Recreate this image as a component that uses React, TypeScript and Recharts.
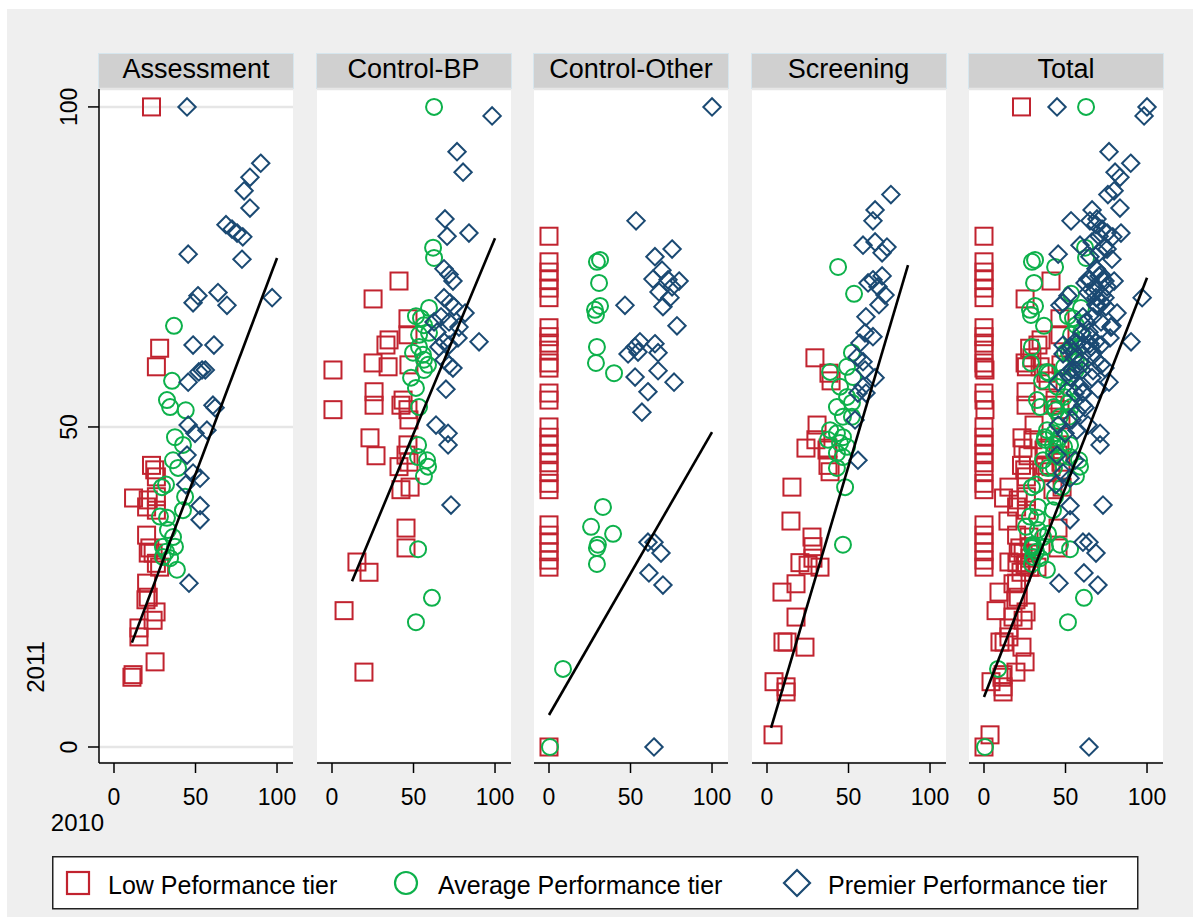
import { ScatterChart, Scatter, XAxis, YAxis, CartesianGrid } from 'recharts';

type Pt = [number, number];

const FONT = '"Liberation Sans", Arial, Helvetica, sans-serif';
const RED = '#c1232f';
const GREEN = '#0db14b';
const NAVY = '#1b4a73';

// panel titles and axis ticks
const panelTitles = ['Assessment', 'Control-BP', 'Control-Other', 'Screening', 'Total'];
const xTicks = [0, 50, 100];
const yTicks = [0, 50, 100];
const legendLabels = ['Low Peformance tier', 'Average Performance tier', 'Premier Performance tier'];

// Assessment
const assessmentLow: Pt[] = [
  [23, 100], [28, 62.3], [26, 59.4], [23, 44], [25, 43.3], [26, 42.2], [12, 38.9], [21, 38.6], [26, 39.1],
  [20, 37.5], [26, 37], [20, 33.1], [22, 31.1], [24, 30.3], [21, 30.3], [26, 28.7], [28, 28.1], [20, 25.6],
  [21, 23.4], [19.6, 23], [25.8, 21.1], [24, 19.8], [15.3, 18.6], [15.3, 17.2], [25.2, 13.3], [11.7, 11.3], [11, 10.9],
];
const assessmentAvg: Pt[] = [
  [36.8, 65.8], [35.6, 57.2], [32.5, 54.2], [34.4, 53.1], [44, 52.6], [37.4, 48.4], [42.3, 47.2], [36.2, 44.8],
  [39.3, 43.6], [31.9, 41], [29.4, 40.6], [43.6, 39.1], [28.2, 36], [32.5, 35.8], [42.3, 37], [33.1, 33.9],
  [36.2, 32.8], [30, 31.3], [37.4, 31.3], [30, 29.7], [34.4, 29.5], [32, 30.5], [38.6, 27.7],
];
const assessmentPremier: Pt[] = [
  [44.8, 100], [90, 91.2], [83.4, 89], [79.8, 86.9], [83.4, 84.2], [68.7, 81.6], [72.4, 80.9], [75.5, 80.3],
  [79, 79.7], [45.5, 77], [78.5, 76.2], [51.5, 70.5], [48.5, 69.4], [63.8, 71], [69.3, 69], [97, 70.2],
  [48.5, 62.8], [61.3, 62.8], [54, 58.9], [56, 58.9], [52, 58.6], [45.5, 57], [60.7, 53.4], [62, 53],
  [45.5, 50.3], [49.7, 49], [57, 49.5], [44.8, 45.6], [48.5, 42.8], [52.8, 42], [44, 41], [52.8, 37.7],
  [52.8, 35.5], [46, 25.6],
];
const assessmentFit: Pt[] = [[11, 16.3], [100, 76.4]];

// Control-BP
const controlBpLow: Pt[] = [
  [41.1, 72.8], [25.2, 70], [46.6, 66.9], [35, 63.6], [33.1, 62.8], [46.6, 64.4], [25.2, 60], [34.4, 59.4],
  [47.2, 59.7], [0.6, 58.9], [25.8, 55.5], [25.8, 53.4], [43.6, 54.2], [46.6, 52.7], [0.6, 52.7], [42.3, 53.4],
  [47.2, 51.1], [23.3, 48.3], [27, 45.5], [46.6, 47.2], [45.4, 45.6], [41.1, 43.8], [47.2, 44.5], [42.3, 40.2],
  [47.9, 40.6], [45.4, 34.2], [45.4, 31.1], [15.3, 28.9], [22.7, 27.3], [7.4, 21.3], [19.6, 11.7],
];
const controlBpAvg: Pt[] = [
  [62.6, 100], [62, 78], [62.6, 76.4], [59.5, 68.6], [51.5, 67.3], [54.6, 67], [56.4, 65.9], [59.5, 64.7],
  [53.4, 64.4], [49.7, 61.6], [55.8, 61.3], [56.4, 60.5], [53.4, 62.5], [58.9, 59.7], [56.4, 58.9], [48.5, 57.7],
  [51.5, 56.1], [53.4, 53.1], [52.8, 47.2], [52.8, 45.3], [58.3, 44.8], [58.9, 43.8], [56.4, 42.3], [52.8, 30.9],
  [61.3, 23.3], [51.5, 19.5],
];
const controlBpPremier: Pt[] = [
  [98.2, 98.6], [76.7, 93], [80.4, 89.8], [69.3, 82.5], [70.6, 79.8], [84, 80.3], [68.7, 74.7], [71.8, 73.8],
  [74.2, 72.8], [68.7, 70.2], [72.4, 69.4], [74.8, 68.8], [81.6, 67.8], [66.9, 67.2], [71.8, 66.4], [62.6, 66.4],
  [77.9, 65.6], [64.4, 64.8], [77.3, 63.9], [90.2, 63.3], [68.7, 63.3], [65.6, 62.5], [71.8, 62.8], [68.7, 60.5],
  [71.8, 59.7], [74.2, 59.2], [69.9, 55.9], [63.8, 50.3], [71.2, 49], [71.2, 47.2], [73, 37.8],
];
const controlBpFit: Pt[] = [[12.3, 25.9], [100, 79.5]];

// Control-Other
const controlOtherLow: Pt[] = [
  [0, 79.8], [0, 75.8], [0, 74.2], [0, 73], [0, 71.7], [0, 70.2], [0, 65.5], [0, 64.1], [0, 63.1], [0, 62],
  [0, 60], [0, 59.2], [0, 55.3], [0, 54.2], [0, 50], [0, 48.4], [0, 47.2], [0, 45.9], [0, 44.4], [0, 43],
  [0, 41.2], [0, 40.2], [0, 34.7], [0, 33.1], [0, 31.9], [0, 30.5], [0, 29.2], [0, 28.1], [0, 0],
];
const controlOtherAvg: Pt[] = [
  [31.3, 76.1], [29.4, 75.8], [30.7, 72.5], [31.3, 68.9], [28.2, 68.3], [28.8, 67.5], [29.4, 62.5], [28.8, 60],
  [39.9, 58.4], [33.1, 37.5], [25.8, 34.4], [39.3, 33.3], [30, 31.6], [29.4, 31.1], [29.4, 28.6], [8.6, 12.2], [0.6, 0],
];
const controlOtherPremier: Pt[] = [
  [53.4, 82.2], [75.5, 77.8], [65, 76.6], [69.3, 74.5], [63.8, 73.1], [73, 73], [79.8, 72.8], [75.5, 71.9],
  [67.5, 71.1], [74.2, 70.2], [69.9, 68.8], [46.6, 69], [78.5, 65.8], [55.8, 63.3], [52.8, 62.5], [48.5, 61.4],
  [54.6, 61.7], [65, 63], [66.9, 61.6], [52.8, 57.8], [66.9, 58.8], [76.7, 57], [60.7, 55.5], [57, 52.3],
  [60.7, 32], [64.4, 32], [68.7, 30.3], [61.3, 27.2], [69.9, 25.3], [64.4, 0], [100, 100],
];
const controlOtherFit: Pt[] = [[0, 5], [100, 49.2]];

// Screening
const screeningLow: Pt[] = [
  [29.4, 60.8], [38, 58.4], [39.3, 57.2], [30.7, 50.3], [23.9, 46.7], [30, 48], [36.8, 46.4], [37.4, 44],
  [37.4, 46.7], [38.7, 43], [15.3, 40.6], [14.7, 35.3], [27.6, 32.8], [28.2, 31.3], [20.2, 28.8], [25.2, 28.4],
  [32.5, 28.1], [28.2, 29.5], [17.8, 25.5], [9.2, 24.2], [17.8, 20.3], [12.3, 16.4], [23.3, 15.6], [9.8, 16.4],
  [4.3, 10.2], [11.7, 9.4], [11.7, 8.6], [3.7, 1.9],
];
const screeningAvg: Pt[] = [
  [43.6, 75], [53.4, 70.8], [52.1, 61.6], [38.7, 58.6], [49.1, 59.4], [52.8, 57.8], [44.8, 56.3], [49.1, 54.7],
  [42.9, 53.1], [52.1, 53.8], [46.6, 51.6], [52.1, 51.6], [38.7, 49.5], [42.9, 49], [46.6, 48.4], [37.4, 48],
  [44.8, 47.5], [49.1, 46.9], [42.9, 45.9], [46.6, 45.3], [42.9, 43.6], [47.9, 40.6], [46.6, 31.6],
];
const screeningPremier: Pt[] = [
  [76, 86.3], [66.3, 83.9], [65, 82.2], [58.9, 78.4], [66.3, 78.9], [73.6, 78.1], [70.6, 77.2], [62, 72.5],
  [65, 73], [70.6, 73.6], [68.1, 71.9], [72.4, 70.6], [68.7, 69.1], [60.7, 67.2], [60.1, 64.7], [65, 64.1],
  [57, 63.1], [55.2, 60.9], [58.9, 60.2], [60.1, 58.9], [66.3, 57.7], [58.9, 56.3], [55.8, 55.3], [60.7, 55.3],
  [54, 51.1], [55.8, 44.8],
];
const screeningFit: Pt[] = [[2.5, 3], [86.5, 75.3]];

// Total = all four programs together
const totalFit: Pt[] = [[0, 7.8], [100, 73.3]];

const toXY = (pts: Pt[]) => pts.map(([x, y]) => ({ x, y }));

const panels = [
  { low: assessmentLow, avg: assessmentAvg, premier: assessmentPremier, fit: assessmentFit },
  { low: controlBpLow, avg: controlBpAvg, premier: controlBpPremier, fit: controlBpFit },
  { low: controlOtherLow, avg: controlOtherAvg, premier: controlOtherPremier, fit: controlOtherFit },
  { low: screeningLow, avg: screeningAvg, premier: screeningPremier, fit: screeningFit },
  {
    low: [...assessmentLow, ...controlBpLow, ...controlOtherLow, ...screeningLow],
    avg: [...assessmentAvg, ...controlBpAvg, ...controlOtherAvg, ...screeningAvg],
    premier: [...assessmentPremier, ...controlBpPremier, ...controlOtherPremier, ...screeningPremier],
    fit: totalFit,
  },
];

const PANEL_LEFT = 99;
const PANEL_PITCH = 217.5;
const PANEL_W = 194;
const PLOT_TOP = 89;
const PLOT_H = 674;

const squareShape = (props: any) => {
  const { cx, cy } = props;
  if (cx == null || cy == null) return <g />;
  return <rect x={cx - 8.5} y={cy - 8.5} width={17} height={17} fill="none" stroke={RED} strokeWidth={2} />;
};
const circleShape = (props: any) => {
  const { cx, cy } = props;
  if (cx == null || cy == null) return <g />;
  return <circle cx={cx} cy={cy} r={8} fill="none" stroke={GREEN} strokeWidth={2} />;
};
const diamondShape = (props: any) => {
  const { cx, cy } = props;
  if (cx == null || cy == null) return <g />;
  const d = 8.7;
  return (
    <polygon
      points={`${cx},${cy - d} ${cx + d},${cy} ${cx},${cy + d} ${cx - d},${cy}`}
      fill="none"
      stroke={NAVY}
      strokeWidth={2}
    />
  );
};
const noShape = () => <g />;

const YTick = (props: any) => {
  const { x, y, payload } = props;
  return (
    <text x={x} y={y} transform={`rotate(-90, ${x}, ${y})`} textAnchor="middle" fontSize={23} fontFamily={FONT} fill="#000">
      {payload.value}
    </text>
  );
};

const Panel = ({ index }: { index: number }) => {
  const p = panels[index];
  const first = index === 0;
  const left = PANEL_LEFT + index * PANEL_PITCH - 100;
  return (
    <div style={{ position: 'absolute', left, top: 0 }}>
      <ScatterChart width={100 + PANEL_W + 10} height={PLOT_TOP + PLOT_H + 60} margin={{ top: PLOT_TOP, right: 10, bottom: 0, left: 0 }}>
        <CartesianGrid vertical={false} fill="#ffffff" stroke="#e6e6e6" strokeWidth={2.5} />
        <XAxis
          type="number"
          dataKey="x"
          domain={[-9.2, 109.8]}
          ticks={xTicks}
          interval={0}
          height={60}
          tickSize={10}
          tickMargin={16}
          axisLine={{ stroke: '#000', strokeWidth: 1.5 }}
          tickLine={{ stroke: '#000', strokeWidth: 1.5 }}
          tick={{ fontSize: 23, fill: '#000', fontFamily: FONT }}
        />
        <YAxis
          type="number"
          dataKey="y"
          domain={[-2.5, 102.8]}
          ticks={yTicks}
          interval={0}
          width={100}
          tickSize={11}
          tickMargin={11}
          axisLine={first ? { stroke: '#000', strokeWidth: 1.5 } : false}
          tickLine={first ? { stroke: '#000', strokeWidth: 1.5 } : false}
          tick={first ? <YTick /> : false}
        />
        <Scatter data={toXY(p.low)} shape={squareShape} isAnimationActive={false} />
        <Scatter data={toXY(p.avg)} shape={circleShape} isAnimationActive={false} />
        <Scatter data={toXY(p.premier)} shape={diamondShape} isAnimationActive={false} />
        <Scatter
          data={toXY(p.fit)}
          shape={noShape}
          line={{ stroke: '#000', strokeWidth: 2.6 }}
          isAnimationActive={false}
        />
      </ScatterChart>
    </div>
  );
};

export default function App() {
  return (
    <div style={{ position: 'absolute', left: 0, top: 0, width: 1200, height: 924, background: '#fff', fontFamily: FONT }}>
      <div style={{ position: 'absolute', left: 7, top: 9, width: 1186, height: 908, background: '#efefef' }} />
      {panelTitles.map((t, i) => (
        <div
          key={t}
          style={{
            position: 'absolute',
            left: PANEL_LEFT + i * PANEL_PITCH - 1,
            top: 53,
            width: PANEL_W + 2,
            height: 36,
            boxSizing: 'border-box',
            background: '#d0d0d0',
            border: '1px solid #d6e6ee',
            textAlign: 'center',
            fontSize: 27,
            lineHeight: '30px',
            color: '#000',
          }}
        >
          {t}
        </div>
      ))}
      {panelTitles.map((t, i) => (
        <Panel key={t} index={i} />
      ))}
      <svg width={1200} height={924} style={{ position: 'absolute', left: 0, top: 0, pointerEvents: 'none' }}>
        <text x={44} y={667} transform="rotate(-90, 44, 667)" textAnchor="middle" fontSize={24} fontFamily={FONT} fill="#000">
          2011
        </text>
        <text x={77.5} y={831} textAnchor="middle" fontSize={24} fontFamily={FONT} fill="#000">
          2010
        </text>
        <rect x={52.75} y={856.75} width={1085} height={52} fill="#fff" stroke="#222" strokeWidth={1.5} />
        <rect x={67} y={872} width={22} height={22} fill="none" stroke={RED} strokeWidth={2.2} />
        <text x={108} y={894} fontSize={25} fontFamily={FONT} fill="#000">{legendLabels[0]}</text>
        <circle cx={406} cy={883} r={11} fill="none" stroke={GREEN} strokeWidth={2.2} />
        <text x={438} y={894} fontSize={25} fontFamily={FONT} fill="#000">{legendLabels[1]}</text>
        <polygon points="797,870 810,883 797,896 784,883" fill="none" stroke={NAVY} strokeWidth={2.2} />
        <text x={828} y={894} fontSize={25} fontFamily={FONT} fill="#000">{legendLabels[2]}</text>
      </svg>
    </div>
  );
}
